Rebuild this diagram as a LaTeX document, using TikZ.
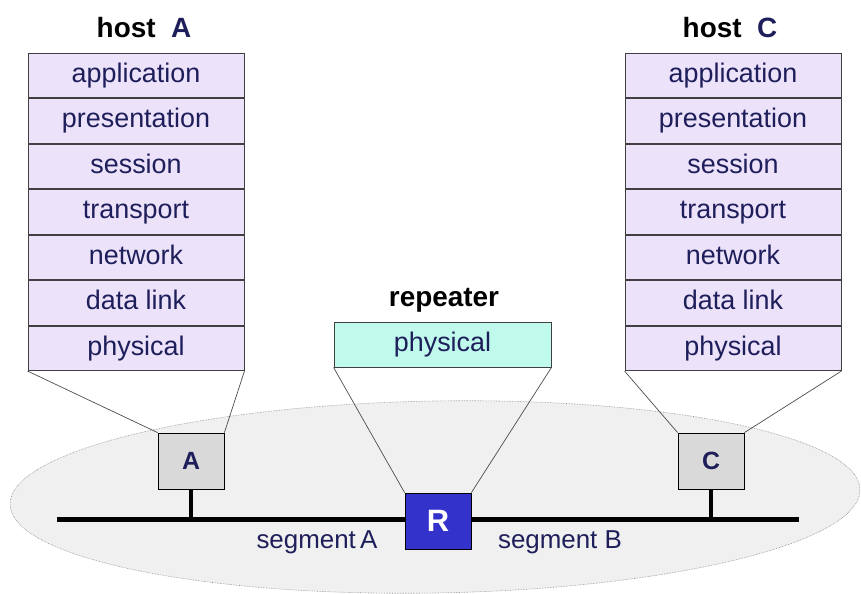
\documentclass[tikz,border=0pt]{standalone}
\usepackage{fontspec}
\setmainfont{Liberation Sans}
\usetikzlibrary{positioning}
\definecolor{navy}{RGB}{30,30,90}
\definecolor{lav}{RGB}{236,226,250}
\definecolor{mint}{RGB}{192,250,236}
\definecolor{rblue}{RGB}{51,51,204}
\definecolor{boxgray}{RGB}{217,217,217}
\definecolor{ellfill}{RGB}{240,240,240}
\tikzset{
  row/.style={draw=black!75, fill=lav, line width=0.9bp, minimum width=216bp, minimum height=44.6bp,
    inner sep=0pt, text=navy, font=\fontsize{27}{29}\selectfont, text height=19bp, text depth=5bp},
  physbox/.style={row, fill=mint, minimum width=217bp, minimum height=45bp},
  hostbox/.style={draw=black, fill=boxgray, line width=0.8bp, minimum width=66bp, minimum height=56bp,
    inner sep=0pt, text=navy, font=\fontsize{25}{27}\selectfont\bfseries},
  rbox/.style={draw=black, fill=rblue, line width=0.8bp, minimum width=66bp, minimum height=56bp,
    inner sep=0pt, text=white, font=\fontsize{31}{33}\selectfont\bfseries},
  title/.style={font=\fontsize{28}{30}\selectfont\bfseries, inner sep=0pt},
  seglabel/.style={text=navy, font=\fontsize{26}{28}\selectfont, inner sep=0pt},
  funnel/.style={draw=black!70, line width=0.7bp},
  wire/.style={line width=4bp, black},
  bus/.style={line width=5bp, black}
}
\begin{document}
\begin{tikzpicture}[x=1bp,y=-1bp]
\useasboundingbox (0,0) rectangle (861,594);
\clip (0,0) rectangle (861,594);
% LAN ellipse
\draw[fill=ellfill, draw=black!45, densely dotted, line width=0.6bp, rotate around={1:(435,497)}] (435,497) ellipse [x radius=425bp, y radius=96bp];

% host A stack
\node[title] (tA) at (144,28) {host\ \ \textcolor{navy}{A}};
\node[row] (a1) at (136,75.3) {application};
\node[row, below=0pt of a1] (a2) {presentation};
\node[row, below=0pt of a2] (a3) {session};
\node[row, below=0pt of a3] (a4) {transport};
\node[row, below=0pt of a4] (a5) {network};
\node[row, below=0pt of a5] (a6) {data link};
\node[row, below=0pt of a6] (a7) {physical};

% host C stack
\node[title] (tC) at (730,28) {host\ \ \textcolor{navy}{C}};
\node[row] (c1) at (733,75.3) {application};
\node[row, below=0pt of c1] (c2) {presentation};
\node[row, below=0pt of c2] (c3) {session};
\node[row, below=0pt of c3] (c4) {transport};
\node[row, below=0pt of c4] (c5) {network};
\node[row, below=0pt of c5] (c6) {data link};
\node[row, below=0pt of c6] (c7) {physical};

% repeater
\node[title] (tR) at (444,300) {repeater};
\node[physbox] (rp) at (442.5,344.5) {physical};

% bus
\coordinate (busL) at (57,519);
\coordinate (busR) at (799,519);
\draw[bus] (busL) -- (busR);

% host boxes
\node[hostbox] (A) at (191,461) {A};
\node[hostbox] (C) at (711,461) {C};
\node[rbox] (R) at (438,521) {R};

\draw[wire] (A.south) -- (A.south |- busL);
\draw[wire] (C.south) -- (C.south |- busL);

% funnels
\draw[funnel] (a7.south west) -- (A.north west);
\draw[funnel] (a7.south east) -- (A.north east);
\draw[funnel] (c7.south west) -- (C.north west);
\draw[funnel] (c7.south east) -- (C.north east);
\draw[funnel] (rp.south west) -- (R.north west);
\draw[funnel] (rp.south east) -- (R.north east);

% segment labels
\node[seglabel] (sA) at (317,542) {segment\,A};
\node[seglabel] (sB) at (560,542) {segment B};
\end{tikzpicture}
\end{document}
